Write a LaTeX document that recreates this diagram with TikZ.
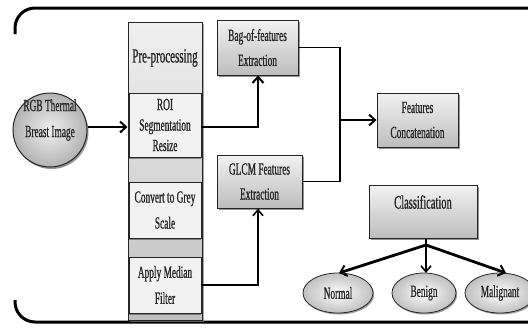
\documentclass[tikz,border=0pt]{standalone}
\usepackage{fontspec}
\setmainfont{Liberation Serif}[FakeStretch=0.55,FakeBold=0.8]
\usetikzlibrary{arrows.meta,shapes.geometric,shadows,positioning}
\definecolor{txt}{HTML}{262626}
\definecolor{lite}{HTML}{F2F2F2}
\definecolor{mid}{HTML}{BDBDBD}
\tikzset{
  fbox/.style={draw=black!85, line width=1pt, top color=lite, bottom color=mid,
    drop shadow={shadow xshift=1.5pt, shadow yshift=-1.5pt, fill=black!60, opacity=0.7},
    align=center, inner sep=0pt, text=txt, font=\fontsize{17}{25}\selectfont},
  subbox/.style={draw=black!85, line width=0.8pt, fill=lite, align=center, inner sep=0pt,
    text=txt, font=\fontsize{17}{26}\selectfont},
  oval/.style={ellipse, draw=black!85, line width=0.8pt, inner color=white, outer color=black!25,
    drop shadow={shadow xshift=1.2pt, shadow yshift=-1.5pt, fill=black!55, opacity=0.7},
    inner sep=0pt, text=txt, font=\fontsize{17}{25}\selectfont},
  lbl/.style={text=txt, align=center, inner sep=0pt},
  arr/.style={-{Straight Barb[length=6pt,width=11pt,line width=2pt]}, line width=2.2pt, black},
  thinarr/.style={-{Straight Barb[length=6pt,width=10pt,line width=1.6pt]}, line width=1.6pt, black},
  conn/.style={line width=1.8pt, black},
}
\begin{document}
\begin{tikzpicture}[x=1pt,y=-1pt]
\useasboundingbox (0,0) rectangle (528,330);
% frame
\draw[line width=3pt, rounded corners=20pt] (530,8) -- (15,8) -- (15,34);
\draw[line width=3pt, rounded corners=20pt] (15,300) -- (15,322) -- (530,322);
% input circle
\node[circle, draw=black!85, line width=1pt, minimum size=74pt, inner sep=0pt,
  inner color=black!6, outer color=black!30,
  drop shadow={shadow xshift=1.5pt, shadow yshift=-2pt, fill=black!60, opacity=0.7}] (rgb) at (50,130) {};
\node[lbl, font=\fontsize{17}{26}\selectfont] (rgbt) at (50,120) {RGB Thermal\\Breast Image};
% pre-processing column
\node[draw=black!85, line width=1pt, minimum width=74pt, minimum height=298pt, inner sep=0pt,
  top color=black!6, bottom color=black!25,
  drop shadow={shadow xshift=1.5pt, shadow yshift=-1.5pt, fill=black!50, opacity=0.7}] (pre) at (165,171) {};
\node[lbl, font=\fontsize{20}{20}\selectfont] (pret) at (165,58) {Pre-processing};
\node[subbox, minimum width=72pt, minimum height=64pt, font=\fontsize{17}{20.5}\selectfont,
  drop shadow={shadow xshift=0pt, shadow yshift=-2pt, fill=black!80}] (roi) at (165,125) {ROI\\Segmentation\\Resize};
\node[subbox, minimum width=72pt, minimum height=56pt,
  drop shadow={shadow xshift=0pt, shadow yshift=-2pt, fill=black!80}] (grey) at (165,210) {Convert to Grey\\Scale};
\node[subbox, minimum width=72pt, minimum height=56pt,
  drop shadow={shadow xshift=0pt, shadow yshift=-2pt, fill=black!80}] (med) at (165,285) {Apply Median\\Filter};
% feature boxes
\node[fbox, minimum width=81pt, minimum height=55pt] (bag) at (257.5,47.5) {Bag-of-features\\Extraction};
\node[fbox, minimum width=85pt, minimum height=53pt] (glcm) at (259.5,181.5) {GLCM Features\\Extraction};
\node[fbox, minimum width=81pt, minimum height=54pt] (feat) at (417.5,120) {Features\\Concatenation};
\node[fbox, minimum width=108pt, minimum height=53pt] (cls) at (423,211.5) {};
\node[lbl, font=\fontsize{19}{20}\selectfont] (clst) at (423,202) {Classification};
% outcome ovals
\node[oval, minimum width=70pt, minimum height=40pt] (nor) at (338,293) {Normal};
\node[oval, minimum width=64pt, minimum height=40pt] (ben) at (424,293) {Benign};
\node[oval, minimum width=70pt, minimum height=40pt] (mal) at (500,293) {Malignant};
% connectors
\coordinate (j1) at (258,127);
\coordinate (j2) at (258,285);
\coordinate (v1) at (340,47.5);
\coordinate (v2) at (340,181.5);
\coordinate (v3) at (340,120);
\coordinate (cj) at (426,245);
\draw[arr] (rgb.east |- 0,127) -- (pre.west |- 0,127);
\draw[arr] (roi.east |- j1) -- (j1) -- (bag.south -| j1);
\draw[thinarr] (med.east |- j2) -- (j2) -- (glcm.south -| j2);
\draw[conn] (bag.east) -- (v1) -- (v2) -- (glcm.east);
\draw[arr] (v3) -- (feat.west);
\draw[line width=2pt] (cls.south -| cj) -- (cj);
\draw[arr, line width=2.8pt] (cj) -- (339,273);
\draw[thinarr, line width=1.4pt] (cj) -- (426,273);
\draw[arr, line width=2.8pt] (cj) -- (506,273);
\end{tikzpicture}
\end{document}
